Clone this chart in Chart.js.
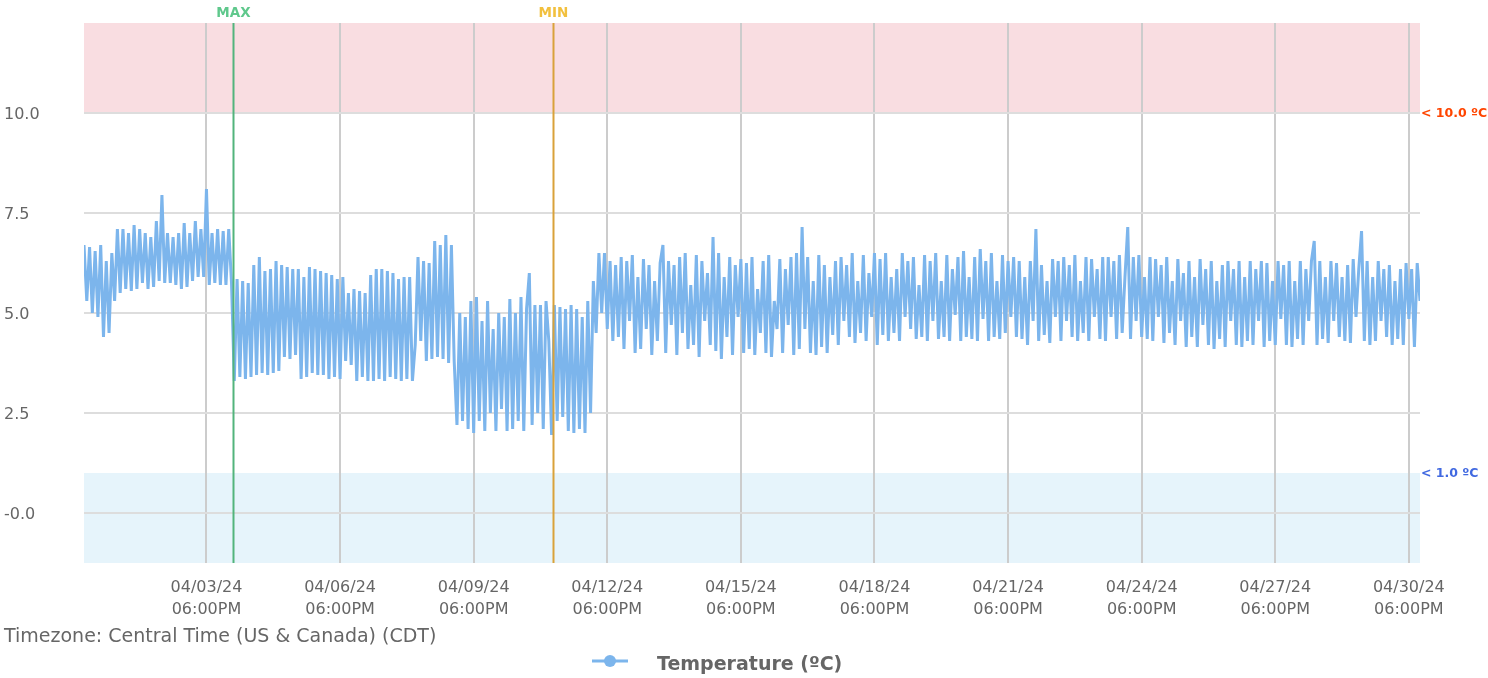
<!DOCTYPE html>
<html>
<head>
<meta charset="utf-8">
<script src="https://cdn.jsdelivr.net/npm/chart.js@4.4.1/dist/chart.umd.min.js"></script>
<style>
  html, body { margin: 0; padding: 0; background: #fff; }
  #wrap { width: 1488px; height: 678px; }
</style>
</head>
<body>
<div id="wrap"><canvas id="tempChart" width="1488" height="678"></canvas></div>
<script>
// hours since 04/01/24 00:00 CDT, one reading every 1.5 h
const sampleHours = 1.5;
const rangeHours = 720;

// one row per day (16 readings)
const temperatureValues = [
  6.7, 5.3, 6.65, 5.0, 6.55, 4.9, 6.7, 4.4, 6.3, 4.5, 6.5, 5.3, 7.1, 5.5, 7.1, 5.6,
  7.0, 5.55, 7.2, 5.6, 7.1, 5.75, 7.0, 5.6, 6.9, 5.65, 7.3, 5.8, 7.95, 5.75, 7.0, 5.75,
  6.9, 5.7, 7.0, 5.6, 7.25, 5.65, 7.0, 5.8, 7.3, 5.9, 7.1, 5.9, 8.1, 5.7, 7.0, 5.75,
  7.1, 5.7, 7.05, 5.7, 7.1, 5.75, 3.3, 5.85, 3.4, 5.8, 3.35, 5.75, 3.4, 6.2, 3.45, 6.4,
  3.5, 6.05, 3.45, 6.1, 3.5, 6.3, 3.55, 6.2, 3.9, 6.15, 3.85, 6.1, 3.95, 6.1, 3.35, 5.9,
  3.4, 6.15, 3.5, 6.1, 3.45, 6.05, 3.45, 6.0, 3.35, 5.95, 3.4, 5.85, 3.35, 5.9, 3.8, 5.5,
  3.7, 5.6, 3.3, 5.55, 3.4, 5.5, 3.3, 5.95, 3.3, 6.1, 3.35, 6.1, 3.3, 6.05, 3.4, 6.0,
  3.35, 5.85, 3.3, 5.9, 3.35, 5.9, 3.3, 4.2, 6.4, 4.3, 6.3, 3.8, 6.25, 3.85, 6.8, 3.9,
  6.7, 3.85, 6.95, 3.75, 6.7, 3.8, 2.2, 5.0, 2.3, 4.9, 2.1, 5.3, 2.0, 5.4, 2.3, 4.8,
  2.05, 5.3, 2.5, 4.6, 2.05, 5.0, 2.6, 4.9, 2.05, 5.35, 2.1, 5.0, 2.3, 5.4, 2.05, 5.1,
  6.0, 2.2, 5.2, 2.5, 5.2, 2.1, 5.3, 4.3, 1.95, 5.2, 2.3, 5.15, 2.4, 5.1, 2.05, 5.2,
  2.0, 5.1, 2.1, 4.9, 2.0, 5.3, 2.5, 5.8, 4.5, 6.5, 5.0, 6.5, 4.6, 6.3, 4.3, 6.2,
  4.4, 6.4, 4.1, 6.3, 4.8, 6.45, 4.0, 5.9, 4.1, 6.35, 4.6, 6.2, 3.95, 5.8, 4.3, 6.25,
  6.7, 4.0, 6.3, 4.7, 6.2, 3.95, 6.4, 4.5, 6.5, 4.1, 5.7, 4.2, 6.45, 3.9, 6.3, 4.8,
  6.0, 4.2, 6.9, 4.05, 6.5, 3.85, 5.9, 4.4, 6.4, 3.95, 6.2, 4.9, 6.35, 4.0, 6.25, 4.1,
  6.4, 3.95, 5.6, 4.5, 6.3, 4.0, 6.45, 3.9, 5.3, 4.6, 6.35, 4.0, 6.1, 4.7, 6.4, 3.95,
  6.5, 4.1, 7.15, 4.6, 6.4, 4.0, 5.8, 3.95, 6.45, 4.15, 6.2, 4.0, 5.9, 4.45, 6.3, 4.2,
  6.4, 4.8, 6.2, 4.4, 6.5, 4.25, 5.8, 4.5, 6.45, 4.3, 6.0, 4.9, 6.5, 4.2, 6.35, 4.45,
  6.5, 4.3, 5.9, 4.5, 6.1, 4.3, 6.5, 4.9, 6.3, 4.6, 6.4, 4.35, 5.7, 4.4, 6.45, 4.3,
  6.3, 4.8, 6.5, 4.35, 5.8, 4.4, 6.45, 4.3, 6.1, 4.95, 6.4, 4.3, 6.55, 4.4, 5.9, 4.35,
  6.4, 4.3, 6.6, 4.85, 6.3, 4.3, 6.5, 4.4, 5.8, 4.35, 6.45, 4.5, 6.3, 4.9, 6.4, 4.4,
  6.3, 4.35, 5.9, 4.2, 6.3, 4.8, 7.1, 4.3, 6.2, 4.45, 5.8, 4.25, 6.35, 4.9, 6.3, 4.3,
  6.4, 4.8, 6.2, 4.4, 6.45, 4.3, 5.8, 4.5, 6.4, 4.3, 6.35, 4.9, 6.1, 4.35, 6.4, 4.3,
  6.4, 4.9, 6.3, 4.35, 6.45, 4.5, 5.9, 7.15, 4.35, 6.4, 4.8, 6.45, 4.4, 5.9, 4.35, 6.4,
  4.3, 6.35, 4.9, 6.2, 4.25, 6.4, 4.5, 5.8, 4.2, 6.35, 4.8, 6.0, 4.15, 6.3, 4.4, 5.9,
  4.15, 6.35, 4.7, 6.1, 4.2, 6.3, 4.1, 5.8, 4.35, 6.2, 4.15, 6.3, 4.8, 6.1, 4.2, 6.3,
  4.15, 5.9, 4.3, 6.3, 4.2, 6.1, 4.8, 6.3, 4.15, 6.25, 4.3, 5.8, 4.2, 6.3, 4.85, 6.2,
  4.2, 6.3, 4.15, 5.8, 4.35, 6.3, 4.2, 6.1, 4.8, 6.3, 6.8, 4.2, 6.3, 4.35, 5.9, 4.25,
  6.3, 4.8, 6.25, 4.4, 5.9, 4.3, 6.2, 4.25, 6.35, 4.9, 6.1, 7.05, 4.3, 6.3, 4.2, 5.9,
  4.3, 6.3, 4.8, 6.1, 4.4, 6.2, 4.2, 5.8, 4.35, 6.1, 4.2, 6.25, 4.85, 6.1, 4.15, 6.25,
  5.3
];

const xTickHours = [66, 138, 210, 282, 354, 426, 498, 570, 642, 714];
const xTickDates = ['04/03/24', '04/06/24', '04/09/24', '04/12/24', '04/15/24',
                    '04/18/24', '04/21/24', '04/24/24', '04/27/24', '04/30/24'];
const xTickTimes = ['06:00PM', '06:00PM', '06:00PM', '06:00PM', '06:00PM',
                    '06:00PM', '06:00PM', '06:00PM', '06:00PM', '06:00PM'];

const yTickValues = [0, 2.5, 5, 7.5, 10];
const yTickLabels = ['-0.0', '2.5', '5.0', '7.5', '10.0'];

const highLimit = 10.0;
const lowLimit = 1.0;
const maxMarkerHour = 80.4;
const minMarkerHour = 252.9;

const FONT = "'DejaVu Sans', sans-serif";

const points = temperatureValues.map((v, i) => ({ x: i * sampleHours, y: v }));

// limit bands behind everything
const bandsPlugin = {
  id: 'bands',
  beforeDraw(chart) {
    const { ctx, chartArea: a, scales: { y } } = chart;
    ctx.save();
    const yHigh = y.getPixelForValue(highLimit);
    ctx.fillStyle = '#f9dde1';
    ctx.fillRect(a.left, a.top, a.right - a.left, yHigh - a.top);
    const yLow = y.getPixelForValue(lowLimit);
    ctx.fillStyle = '#e6f4fb';
    ctx.fillRect(a.left, yLow, a.right - a.left, a.bottom - yLow);
    ctx.restore();
  }
};

// MAX / MIN markers and limit labels
const markersPlugin = {
  id: 'markers',
  afterDatasetsDraw(chart) {
    const { ctx, chartArea: a, scales: { x, y } } = chart;
    ctx.save();
    const marks = [
      { hour: maxMarkerHour, line: '#52b47c', text: 'MAX', textColor: '#5fc88c' },
      { hour: minMarkerHour, line: '#d9a23a', text: 'MIN', textColor: '#f2c03e' }
    ];
    marks.forEach(m => {
      const px = Math.round(x.getPixelForValue(m.hour)) + 0.5;
      ctx.strokeStyle = m.line;
      ctx.lineWidth = 2;
      ctx.beginPath();
      ctx.moveTo(px, a.top);
      ctx.lineTo(px, a.bottom);
      ctx.stroke();
      ctx.fillStyle = m.textColor;
      ctx.font = 'bold 13.5px ' + FONT;
      ctx.textAlign = 'center';
      ctx.textBaseline = 'middle';
      ctx.fillText(m.text, px, 13);
    });
    ctx.font = 'bold 12.5px ' + FONT;
    ctx.textAlign = 'left';
    ctx.textBaseline = 'middle';
    ctx.fillStyle = 'orangered';
    ctx.fillText('< 10.0 ºC', a.right + 1, y.getPixelForValue(highLimit) + 1);
    ctx.fillStyle = 'royalblue';
    ctx.fillText('< 1.0 ºC', a.right + 1, y.getPixelForValue(lowLimit) + 1);
    ctx.restore();
  },
  afterDraw(chart) {
    const { ctx } = chart;
    ctx.save();
    ctx.fillStyle = '#666';
    ctx.font = '19px ' + FONT;
    ctx.textAlign = 'left';
    ctx.textBaseline = 'middle';
    ctx.fillText('Timezone: Central Time (US & Canada) (CDT)', 4, 637);
    // legend
    ctx.strokeStyle = '#7cb5ec';
    ctx.lineWidth = 3;
    ctx.beginPath();
    ctx.moveTo(592, 661);
    ctx.lineTo(628, 661);
    ctx.stroke();
    ctx.fillStyle = '#7cb5ec';
    ctx.beginPath();
    ctx.arc(610, 661, 6, 0, Math.PI * 2);
    ctx.fill();
    ctx.fillStyle = '#666';
    ctx.font = 'bold 19px ' + FONT;
    ctx.fillText('Temperature (ºC)', 657, 665);
    ctx.restore();
  }
};

new Chart(document.getElementById('tempChart'), {
  type: 'line',
  data: {
    datasets: [{
      label: 'Temperature (ºC)',
      data: points,
      borderColor: '#7cb5ec',
      backgroundColor: '#7cb5ec',
      borderWidth: 3,
      pointRadius: 0,
      tension: 0,
      fill: false
    }]
  },
  options: {
    responsive: false,
    animation: false,
    devicePixelRatio: 1,
    layout: { padding: { left: 4, right: 68, top: 23, bottom: 55 } },
    plugins: { legend: { display: false }, tooltip: { enabled: false } },
    scales: {
      x: {
        type: 'linear',
        min: 0,
        max: rangeHours,
        afterBuildTicks: s => { s.ticks = xTickHours.map(v => ({ value: v })); },
        afterFit: s => { s.height = 60; },
        grid: { color: '#cccccc', lineWidth: 2, drawTicks: false },
        border: { display: false },
        ticks: {
          padding: 14,
          maxRotation: 0,
          autoSkip: false,
          color: '#666',
          font: { family: FONT, size: 16, lineHeight: 1.375 },
          callback: (v) => {
            const i = xTickHours.indexOf(v);
            return i < 0 ? '' : [xTickDates[i], xTickTimes[i]];
          }
        }
      },
      y: {
        min: -1.25,
        max: 12.25,
        afterBuildTicks: s => { s.ticks = yTickValues.map(v => ({ value: v })); },
        afterFit: s => { s.width = 80; },
        grid: { color: '#dddddd', lineWidth: 2, drawTicks: false },
        border: { display: false },
        ticks: {
          crossAlign: 'far',
          padding: 0,
          labelOffset: 2,
          color: '#666',
          font: { family: FONT, size: 16 },
          callback: (v) => {
            const i = yTickValues.indexOf(v);
            return i < 0 ? '' : yTickLabels[i];
          }
        }
      }
    }
  },
  plugins: [bandsPlugin, markersPlugin]
});
</script>
</body>
</html>
